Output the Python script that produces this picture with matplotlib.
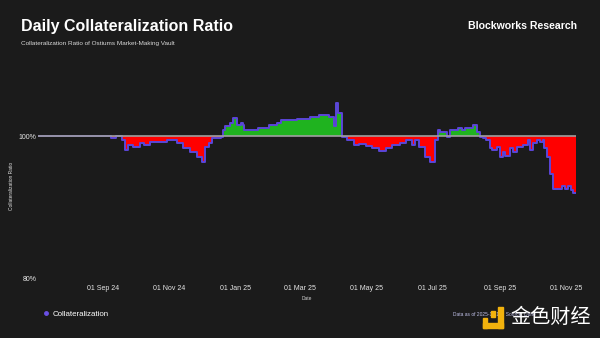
import pandas as pd
import numpy as np
import matplotlib
matplotlib.use("Agg")
import matplotlib.pyplot as plt
import matplotlib.dates as mdates
from matplotlib.lines import Line2D
from matplotlib.patches import Rectangle

# donnees (ratio en %)
dates = ["2024-07-03", "2024-09-08", "2024-09-13", "2024-09-18", "2024-09-21", "2024-09-24",
         "2024-09-28", "2024-10-05", "2024-10-09", "2024-10-14", "2024-10-21", "2024-10-30",
         "2024-11-08", "2024-11-13", "2024-11-20", "2024-11-26", "2024-12-01", "2024-12-04",
         "2024-12-07", "2024-12-10", "2024-12-18", "2024-12-20", "2024-12-22", "2024-12-27",
         "2024-12-29", "2025-01-02", "2025-01-06", "2025-01-08", "2025-01-09", "2025-01-21",
         "2025-02-01", "2025-02-08", "2025-02-12", "2025-02-26", "2025-03-10", "2025-03-19",
         "2025-03-28", "2025-04-01", "2025-04-03", "2025-04-05", "2025-04-09", "2025-04-13",
         "2025-04-20", "2025-04-24", "2025-05-01", "2025-05-06", "2025-05-13", "2025-05-19",
         "2025-05-25", "2025-06-01", "2025-06-07", "2025-06-12", "2025-06-15", "2025-06-19",
         "2025-06-24", "2025-06-29", "2025-07-03", "2025-07-06", "2025-07-08", "2025-07-14",
         "2025-07-17", "2025-07-20", "2025-07-24", "2025-07-28", "2025-07-31", "2025-08-07",
         "2025-08-11", "2025-08-14", "2025-08-16", "2025-08-19", "2025-08-23", "2025-08-25",
         "2025-08-29", "2025-09-01", "2025-09-04", "2025-09-06", "2025-09-10", "2025-09-13",
         "2025-09-17", "2025-09-22", "2025-09-27", "2025-09-29", "2025-10-01", "2025-10-05",
         "2025-10-08", "2025-10-11", "2025-10-12", "2025-10-14", "2025-10-17", "2025-10-20",
         "2025-10-28", "2025-10-31", "2025-11-03", "2025-11-05", "2025-11-07", "2025-11-10"]
ratio = [100.0, 99.7, 100.0, 99.4, 98.1, 98.7,
         98.5, 99.0, 98.8, 99.1, 99.2, 99.4,
         99.0, 98.3, 97.8, 97.1, 96.4, 98.5,
         99.0, 99.7, 99.8, 100.9, 101.4, 101.9,
         102.5, 101.6, 101.9, 101.6, 100.9, 101.2,
         101.5, 101.8, 102.3, 102.4, 102.7, 102.9,
         102.7, 101.4, 104.7, 103.2, 99.8, 99.4,
         98.7, 98.9, 98.6, 98.3, 97.9, 98.3,
         98.7, 99.0, 99.4, 98.7, 99.4, 98.5,
         97.1, 96.4, 99.4, 100.8, 100.6, 99.9,
         100.8, 100.9, 101.2, 100.9, 101.2, 101.6,
         100.6, 99.9, 99.7, 99.4, 98.3, 98.0,
         98.5, 97.1, 97.8, 97.2, 98.3, 97.8,
         98.5, 98.7, 99.5, 98.1, 99.0, 99.5,
         99.2, 99.4, 98.3, 97.1, 94.7, 92.5,
         92.9, 92.6, 93.0, 92.4, 92.0, 92.0]

x = pd.to_datetime(dates)
y = np.array(ratio)

bg = "#1b1b1b"
plt.rcParams['font.family'] = ['Liberation Sans', 'DejaVu Sans']

fig = plt.figure(figsize=(6, 3.38), dpi=100, facecolor=bg)
ax = fig.add_axes([0.0633, 0.1775, 0.8967, 0.546])
ax.set_facecolor(bg)

# zones vertes / rouges autour de 100%
ax.fill_between(x, 100, np.maximum(y, 100), step='post', color='#1fb31f', lw=0, zorder=2)
ax.fill_between(x, np.minimum(y, 100), 100, step='post', color='#ff0000', lw=0, zorder=2)
ax.plot(x, y, drawstyle='steps-post', color='#5b46d9', lw=1.4, zorder=3)
ax.axhline(100, color='#a0a0a0', lw=1.2, zorder=4)
ax.axhline(80, color='#2a2a2a', lw=0.8, zorder=1)

ax.set_xlim(pd.Timestamp("2024-07-03"), pd.Timestamp("2025-11-10"))
ax.set_ylim(80, 106)
ax.set_yticks([80, 100])
ax.set_yticklabels(["80%", "100%"])
ax.xaxis.set_major_locator(mdates.MonthLocator(bymonth=[1, 3, 5, 7, 9, 11]))
ax.xaxis.set_major_formatter(mdates.DateFormatter("%d %b %y"))
ax.tick_params(axis='both', length=0, colors='#e6e6e6', labelsize=5)
ax.tick_params(axis='x', pad=5)
ax.tick_params(axis='y', pad=1)
for s in ax.spines.values():
    s.set_visible(False)

ax.set_xlabel("Date", color='#d0d0d0', fontsize=3.5, labelpad=3)
ax.set_ylabel("Collateralization Ratio", color='#e0e0e0', fontsize=3.5, labelpad=3.5)

# titres
fig.text(0.035, 0.923, "Daily Collateralization Ratio", color='white', fontsize=11.5,
         fontweight='bold', va='center', ha='left')
fig.text(0.035, 0.87, "Collateralization Ratio of Ostiums Market-Making Vault", color='#d8d8d8',
         fontsize=4.6, va='center', ha='left')
fig.text(0.962, 0.923, "Blockworks Research", color='white', fontsize=7.6,
         fontweight='bold', va='center', ha='right')

# legende
h = [Line2D([], [], marker='o', ls='', color='#6a50e6', markersize=2.5)]
fig.legend(h, ["Collateralization"], loc='center left', bbox_to_anchor=(0.058, 0.071),
           frameon=False, fontsize=5.7, labelcolor='white', handletextpad=0.3,
           handlelength=1)

fig.text(0.755, 0.071, "Data as of 2025-11-12 | Source: Dune", color='#c0c0e8', fontsize=3.5,
         va='center', ha='left')

# filigrane
jaune = '#f2b20d'
for rx, ry, rw, rh in [(0.830, 0.030, 0.008, 0.062), (0.805, 0.030, 0.033, 0.015),
                       (0.805, 0.030, 0.007, 0.029), (0.818, 0.062, 0.007, 0.018)]:
    fig.patches.append(Rectangle((rx, ry), rw, rh, transform=fig.transFigure,
                                 color=jaune, zorder=5))
fig.text(0.851, 0.062, "金色财经", color='white', fontsize=14.5, va='center', ha='left',
         family=['Noto Sans CJK SC', 'DejaVu Sans'], zorder=6)

fig.savefig("out.png", dpi=100, facecolor=bg)
